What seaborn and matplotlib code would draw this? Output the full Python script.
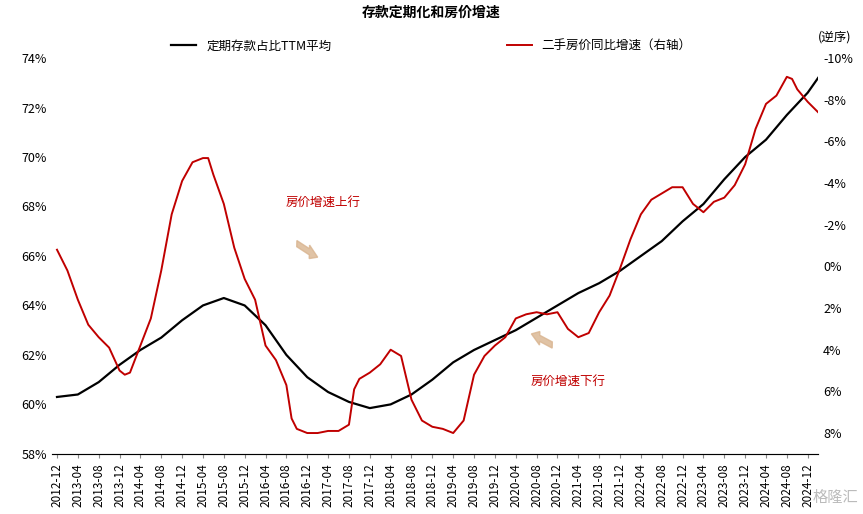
import matplotlib
matplotlib.use("Agg")
import matplotlib.pyplot as plt
from matplotlib import font_manager as fm
import seaborn as sns
import pandas as pd
from matplotlib.patches import FancyArrow

cjk = None
for f in fm.findSystemFonts():
    if "CJK" in f and ("SC" in f or "sc" in f.lower() or "CJK-" in f or "CJK" in f):
        try:
            fm.fontManager.addfont(f)
        except Exception:
            pass
names = sorted({e.name for e in fm.fontManager.ttflist if "CJK" in e.name})
for pref in ["Noto Sans CJK SC", "Noto Sans CJK JP", "Noto Sans CJK TC", "Noto Sans CJK KR"]:
    if pref in names:
        cjk = pref
        break
if cjk is None and names:
    cjk = names[0]
plt.rcParams["font.family"] = [cjk] if cjk else ["DejaVu Sans"]
plt.rcParams["axes.unicode_minus"] = False

black_dates = ["2012-12","2013-04","2013-08","2013-12","2014-04","2014-08","2014-12","2015-04","2015-08","2015-12",
               "2016-04","2016-08","2016-12","2017-04","2017-08","2017-12","2018-04","2018-08","2018-12","2019-04",
               "2019-08","2019-12","2020-04","2020-08","2020-12","2021-04","2021-08","2021-12","2022-04","2022-08",
               "2022-12","2023-04","2023-08","2023-12","2024-04","2024-08","2024-12","2025-02"]
black_vals = [60.3,60.4,60.9,61.6,62.2,62.7,63.4,64.0,64.3,64.0,
              63.2,62.0,61.1,60.5,60.1,59.85,60.0,60.4,61.0,61.7,
              62.2,62.6,63.0,63.5,64.0,64.5,64.9,65.4,66.0,66.6,
              67.4,68.1,69.1,70.0,70.7,71.7,72.6,73.2]

red_dates = ["2012-12","2013-02","2013-04","2013-06","2013-08","2013-10","2013-12","2014-01","2014-02","2014-04",
             "2014-06","2014-08","2014-10","2014-12","2015-02","2015-04","2015-05","2015-06","2015-08","2015-10",
             "2015-12","2016-02","2016-04","2016-06","2016-08","2016-09","2016-10","2016-12","2017-02","2017-04",
             "2017-06","2017-08","2017-09","2017-10","2017-12","2018-02","2018-04","2018-06","2018-08","2018-10",
             "2018-12","2019-02","2019-04","2019-06","2019-08","2019-10","2019-12","2020-02","2020-04","2020-06",
             "2020-08","2020-10","2020-12","2021-02","2021-04","2021-06","2021-08","2021-10","2021-12","2022-02",
             "2022-04","2022-06","2022-08","2022-10","2022-12","2023-02","2023-04","2023-06","2023-08","2023-10",
             "2023-12","2024-02","2024-04","2024-06","2024-08","2024-09","2024-10","2024-12","2025-02"]
red_vals = [-0.8,0.2,1.6,2.8,3.4,3.9,5.0,5.2,5.1,3.8,
            2.5,0.2,-2.5,-4.1,-5.0,-5.2,-5.2,-4.4,-3.0,-0.9,
            0.6,1.6,3.8,4.5,5.7,7.3,7.8,8.0,8.0,7.9,
            7.9,7.6,5.9,5.4,5.1,4.7,4.0,4.3,6.4,7.4,
            7.7,7.8,8.0,7.4,5.2,4.3,3.8,3.4,2.5,2.3,
            2.2,2.3,2.2,3.0,3.4,3.2,2.2,1.4,0.1,-1.3,
            -2.5,-3.2,-3.5,-3.8,-3.8,-3.0,-2.6,-3.1,-3.3,-3.9,
            -4.9,-6.6,-7.8,-8.2,-9.1,-9.0,-8.5,-7.9,-7.4]

tick_labels = [f"{y}-{m:02d}" for y in range(2012, 2025) for m in (4, 8, 12) if (y, m) >= (2012, 12)]

def midx(s):
    y, m = map(int, s.split("-"))
    return (y - 2012) * 12 + (m - 12)

dfb = pd.DataFrame({"x": [midx(d) for d in black_dates], "v": black_vals})
dfr = pd.DataFrame({"x": [midx(d) for d in red_dates], "v": red_vals})

fig = plt.figure(figsize=(8.63, 5.14), dpi=100)
ax = fig.add_axes([0.060, 0.117, 0.888, 0.770])
ax2 = ax.twinx()
sns.lineplot(data=dfb, x="x", y="v", ax=ax, color="black", lw=1.6, label="定期存款占比TTM平均", legend=False)
sns.lineplot(data=dfr, x="x", y="v", ax=ax2, color="#C00000", lw=1.4, label="二手房价同比增速（右轴）", legend=False)

ax.set_xlim(-1, 146)
ax.set_ylim(58, 74)
ax.set_yticks(range(58, 75, 2))
ax.set_yticklabels([f"{v}%" for v in range(58, 75, 2)], fontsize=9)
ax2.set_ylim(9, -10)
ax2.set_yticks(range(-10, 9, 2))
ax2.set_yticklabels([f"{v}%" for v in range(-10, 9, 2)], fontsize=9)
ax.set_xticks([midx(t) for t in tick_labels])
ax.set_xticklabels(tick_labels, rotation=90, fontsize=8.5)
ax.set_xlabel(""); ax.set_ylabel(""); ax2.set_ylabel("")
for a in (ax, ax2):
    for s in ("top", "left", "right"):
        a.spines[s].set_visible(False)
    a.tick_params(length=0)
ax.spines["bottom"].set_color("#888888")
ax.tick_params(axis="x", length=3, color="#888888")

fig.text(0.5, 0.975, "存款定期化和房价增速", ha="center", va="center", fontsize=10, fontweight="bold")
fig.text(0.967, 0.928, "(逆序)", ha="center", va="center", fontsize=9)
h1, l1 = ax.get_legend_handles_labels()
h2, l2 = ax2.get_legend_handles_labels()
fig.legend(h1 + h2, l1 + l2, loc="center", bbox_to_anchor=(0.5, 0.91), ncol=2, frameon=False,
           fontsize=9, columnspacing=14, handlelength=2)

ax.text(51, 68.15, "房价增速上行", color="#C00000", fontsize=9, ha="center", va="center")
ax.text(98, 60.95, "房价增速下行", color="#C00000", fontsize=9, ha="center", va="center")
ax.add_patch(FancyArrow(46, 66.5, 4, -0.55, width=0.25, head_width=0.55, head_length=1.6,
                        color="#D9B48F", alpha=0.8, length_includes_head=True))
ax.add_patch(FancyArrow(95, 62.4, -4, 0.45, width=0.25, head_width=0.55, head_length=1.6,
                        color="#D9B48F", alpha=0.8, length_includes_head=True))
fig.text(0.995, 0.015, "格隆汇", ha="right", va="bottom", fontsize=11, color="#BBBBBB")

fig.savefig("out.png", dpi=100)
